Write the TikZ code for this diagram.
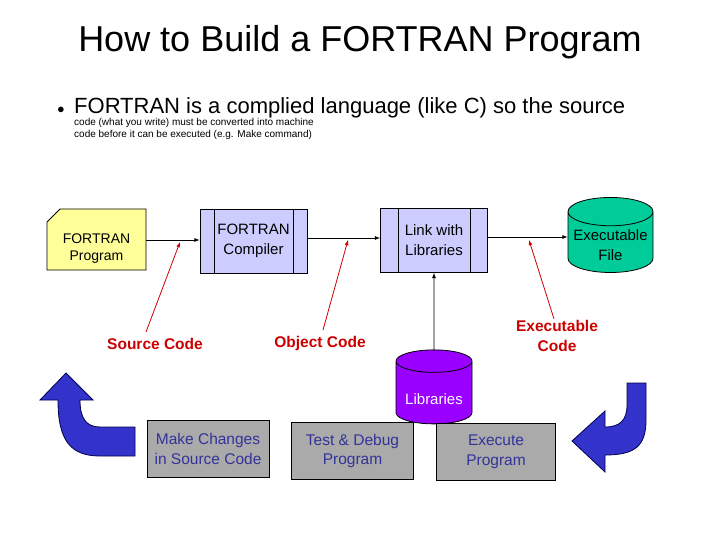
\documentclass[tikz,border=0pt]{standalone}
\usepackage{fontspec}
\setmainfont{Liberation Sans}
\usetikzlibrary{shapes.geometric,shapes.misc}
\definecolor{procblue}{RGB}{204,204,255}
\definecolor{noteyellow}{RGB}{255,255,153}
\definecolor{exegreen}{RGB}{0,204,153}
\definecolor{libpurple}{RGB}{153,0,255}
\definecolor{labelred}{RGB}{204,0,0}
\definecolor{loopblue}{RGB}{51,51,204}
\definecolor{stepgray}{RGB}{170,170,170}
\definecolor{steptext}{RGB}{51,51,153}
\tikzset{
  procbox/.style={draw,thick,fill=procblue,minimum width=107pt,minimum height=64pt,align=center,font=\fontsize{15}{20}\selectfont},
  stepbox/.style={draw,thick,fill=stepgray,minimum width=122pt,minimum height=57pt,align=center,text=steptext,font=\fontsize{15.5}{19.5}\selectfont},
  store/.style={cylinder,shape border rotate=90,draw,thick,aspect=0.35,align=center,font=\fontsize{15}{20}\selectfont},
  redlabel/.style={text=labelred,font=\fontsize{15.5}{20}\selectfont\bfseries,align=center},
  redline/.style={labelred,thick,-latex},
  flow/.style={thick,-latex},
  looparrow/.style={fill=loopblue,draw=black!70!blue,thick}
}
\begin{document}
\begin{tikzpicture}[x=1pt,y=-1pt]
    \useasboundingbox (0,0) rectangle (720,540);
    \node (title) at (360,42) {\fontsize{36}{40}\selectfont How to Build a FORTRAN Program};
    \node (bullet) at (61,110) {\fontsize{14}{14}\selectfont$\bullet$};
    \node[anchor=north west,align=left,inner sep=0pt] (intro) at (74,97)
        {\fontsize{22}{28.5}\selectfont FORTRAN is a complied language (like C) so the source\\
         code (what you write) must be converted into machine\\
         code before it can be executed (e.g. Make command)};

%top row
    \draw[thick,fill=noteyellow] (47,270) -- (47,222) -- (60,209) -- (146,209) -- (146,270) -- cycle;
    \node[align=center,font=\fontsize{14}{17}\selectfont] (prog) at (96.5,249) {FORTRAN\\Program};
    \coordinate (progE) at (146,240);

    \node[procbox] (comp) at (253.5,241) {FORTRAN\\Compiler};
    \draw[thick] (214,209) -- (214,273) (293,209) -- (293,273);

    \node[procbox] (link) at (434,240.5) {Link with\\Libraries};
    \draw[thick] (398,208) -- (398,273) (470,208) -- (470,273);

    \node[store,fill=exegreen,minimum width=85pt,minimum height=72pt] (exe) at (610.5,245) {Executable\\File};
    \node[store,fill=libpurple,text=white,minimum width=76pt,minimum height=74pt] (libs) at (434,395) {\\Libraries};

    \draw[flow] (progE) -- (comp.west |- progE);
    \draw[flow] (comp.east |- 0,238) -- (link.west |- 0,238);
    \draw[flow] (link.east |- 0,237) -- (exe.west |- 0,237);
    \draw[flow] (libs.north) -- (link.south);

%labels
    \node[redlabel] (src) at (155,344) {Source Code};
    \node[redlabel] (obj) at (320,343) {Object Code};
    \node[redlabel] (exc) at (557,336) {Executable\\Code};
    \draw[redline] (146,332) -- (180,242);
    \draw[redline] (323,330) -- (348,240);
    \draw[redline] (554,319) -- (529,240);

%bottom row
    \node[stepbox] (make) at (208,449) {Make Changes\\in Source Code};
    \node[stepbox] (test) at (352.5,451) {Test \& Debug\\Program};
    \node[stepbox,minimum width=119pt] (run) at (496,452) {Execute\\Program};

    \draw[looparrow] (135,427) -- (100,427) .. controls (86,427) and (80,418) .. (80,400)
        -- (93,400) -- (66,373) -- (40,400) -- (58,400)
        .. controls (58,440) and (70,456) .. (100,456) -- (135,456) -- cycle;
    \draw[looparrow] (627,383) -- (646,383) -- (646,420) .. controls (646,446) and (635,455) .. (605,455)
        -- (605,472) -- (572,441) -- (605,411) -- (605,427)
        .. controls (620,427) and (627,420) .. (627,405) -- cycle;
\end{tikzpicture}
\end{document}
